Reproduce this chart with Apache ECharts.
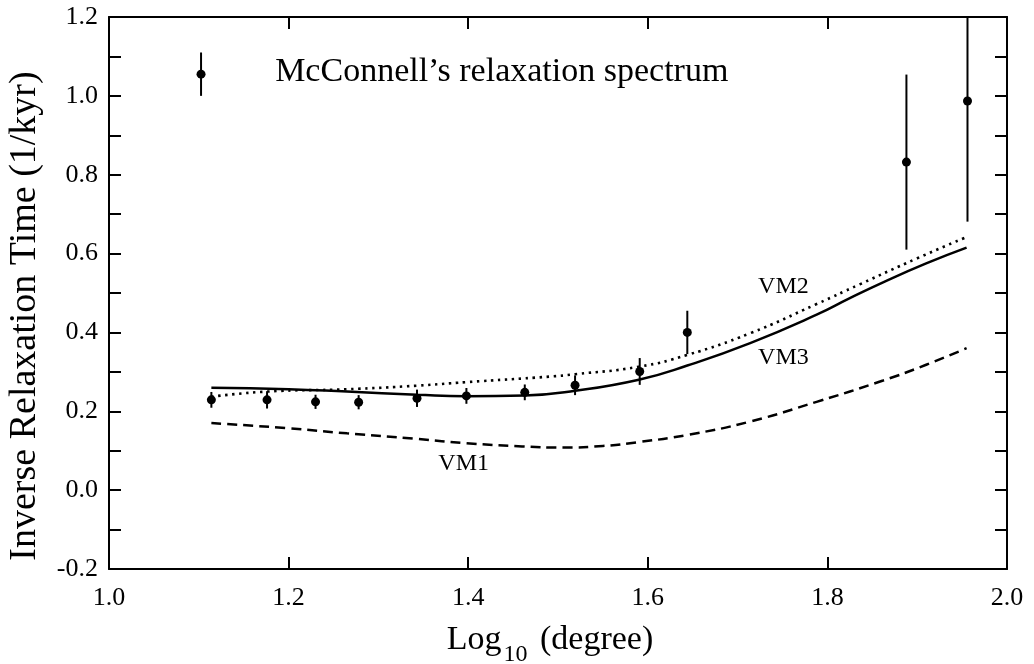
<!DOCTYPE html>
<html>
<head>
<meta charset="utf-8">
<script src="https://cdn.jsdelivr.net/npm/echarts@6/dist/echarts.min.js"></script>
<style>
html,body{margin:0;padding:0;background:#fff;}
#chart{width:1034px;height:664px;}
</style>
</head>
<body>
<div id="chart"></div>
<script>
// Observed relaxation spectrum (McConnell)
const obsX   = [1.114, 1.176, 1.230, 1.278, 1.343, 1.398, 1.463, 1.519, 1.591, 1.644, 1.888, 1.956];
const obsY   = [0.229, 0.229, 0.224, 0.223, 0.233, 0.239, 0.248, 0.266, 0.301, 0.400, 0.832, 0.987];
const obsErr = [0.020, 0.022, 0.018, 0.018, 0.022, 0.020, 0.020, 0.025, 0.034, 0.055, 0.222, 0.306];

// Legend key symbol
const keyX = [1.1025];
const keyY = [1.055];
const keyErr = [0.055];

// Model curves
const vm1X = [1.114, 1.200, 1.265, 1.343, 1.398, 1.460, 1.505, 1.550, 1.590, 1.644, 1.714, 1.788, 1.862, 1.910, 1.955];
const vm1Y = [0.170, 0.157, 0.144, 0.130, 0.119, 0.111, 0.108, 0.112, 0.122, 0.140, 0.174, 0.224, 0.278, 0.318, 0.360];

const vm2X = [1.114, 1.176, 1.265, 1.343, 1.398, 1.491, 1.519, 1.590, 1.644, 1.714, 1.788, 1.836, 1.900, 1.955];
const vm2Y = [0.237, 0.250, 0.256, 0.265, 0.274, 0.288, 0.294, 0.313, 0.343, 0.398, 0.472, 0.522, 0.588, 0.642];

const vm3X = [1.114, 1.200, 1.265, 1.343, 1.398, 1.463, 1.519, 1.590, 1.644, 1.714, 1.788, 1.825, 1.862, 1.910, 1.955];
const vm3Y = [0.260, 0.256, 0.250, 0.242, 0.238, 0.240, 0.252, 0.280, 0.316, 0.373, 0.445, 0.487, 0.527, 0.575, 0.615];

// Text annotations
const annText = ['McConnell\u2019s relaxation spectrum', 'VM1', 'VM2', 'VM3'];
const annX    = [1.185, 1.395, 1.751, 1.751];
const annY    = [1.061, 0.066, 0.516, 0.336];

// Axis titles
const xTitle = 'Log{sub|10} (degree)';
const yTitle = 'Inverse Relaxation Time (1/kyr)';

const X_MIN = 1.0, X_MAX = 2.0, Y_MIN = -0.2, Y_MAX = 1.2;

const FONT = '"Liberation Serif", "Times New Roman", serif';
const zip = (a, b) => a.map((v, i) => [v, b[i]]);

const chart = echarts.init(document.getElementById('chart'), null, {renderer: 'canvas'});

function errRender(params, api) {
  const x = api.value(0), y = api.value(1), e = api.value(2);
  const hi = Math.min(y + e, Y_MAX), lo = Math.max(y - e, Y_MIN);
  const t = api.coord([x, hi]), b = api.coord([x, lo]), c = api.coord([x, y]);
  return {
    type: 'group',
    children: [
      {type: 'line', shape: {x1: t[0], y1: t[1], x2: b[0], y2: b[1]}, style: {stroke: '#000', lineWidth: 2}},
      {type: 'circle', shape: {cx: c[0], cy: c[1], r: 4.5}, style: {fill: '#000'}}
    ]
  };
}

const axisLine = {show: true, onZero: false, lineStyle: {color: '#000', width: 2}};
const tick = {show: true, inside: true, length: 12, lineStyle: {color: '#000', width: 2}};

const option = {
  backgroundColor: '#fff',
  animation: false,
  grid: {left: 109, right: 27, top: 17, bottom: 95, containLabel: false, outerBoundsMode: 'none'},
  xAxis: [
    {
      type: 'value', min: X_MIN, max: X_MAX, interval: 0.2, position: 'bottom',
      axisLine: axisLine, axisTick: tick, splitLine: {show: false},
      axisLabel: {color: '#000', fontFamily: FONT, fontSize: 26, margin: 16,
        formatter: v => v.toFixed(1)}
    },
    {
      type: 'value', min: X_MIN, max: X_MAX, interval: 0.2, position: 'top',
      axisLine: axisLine, axisTick: tick, axisLabel: {show: false}, splitLine: {show: false}
    }
  ],
  yAxis: [
    {
      type: 'value', min: Y_MIN, max: Y_MAX, interval: 0.2, position: 'left',
      axisLine: axisLine, axisTick: tick,
      minorTick: {show: true, splitNumber: 2, length: 12, lineStyle: {color: '#000', width: 2}},
      splitLine: {show: false},
      axisLabel: {color: '#000', fontFamily: FONT, fontSize: 26, margin: 11,
        formatter: v => v.toFixed(1)}
    },
    {
      type: 'value', min: Y_MIN, max: Y_MAX, interval: 0.2, position: 'right',
      axisLine: axisLine, axisTick: tick,
      minorTick: {show: true, splitNumber: 2, length: 12, lineStyle: {color: '#000', width: 2}},
      axisLabel: {show: false}, splitLine: {show: false}
    }
  ],
  graphic: [
    {
      type: 'text', x: 550, y: 640,
      style: {
        text: xTitle, fill: '#000', fontFamily: FONT, fontSize: 34,
        align: 'center', verticalAlign: 'middle',
        rich: {sub: {fontFamily: FONT, fontSize: 24, fill: '#000', padding: [30, 4, 0, 2]}}
      }
    },
    {
      type: 'text', x: 25, y: 316, rotation: Math.PI / 2,
      style: {
        text: yTitle, fill: '#000', fontFamily: FONT, fontSize: 38,
        align: 'center', verticalAlign: 'middle'
      }
    }
  ],
  series: [
    {
      name: 'VM1', type: 'line', data: zip(vm1X, vm1Y), smooth: true, symbol: 'none',
      lineStyle: {color: '#000', width: 2.5, type: [10, 6]}
    },
    {
      name: 'VM2', type: 'line', data: zip(vm2X, vm2Y), smooth: true, symbol: 'none',
      lineStyle: {color: '#000', width: 2.6, type: [2.4, 4.6], cap: 'butt'}
    },
    {
      name: 'VM3', type: 'line', data: zip(vm3X, vm3Y), smooth: true, symbol: 'none',
      lineStyle: {color: '#000', width: 2.5}
    },
    {
      name: 'McConnell', type: 'custom', renderItem: errRender,
      data: obsX.map((x, i) => [x, obsY[i], obsErr[i]]), z: 5
    },
    {
      name: 'key', type: 'custom', renderItem: errRender,
      data: keyX.map((x, i) => [x, keyY[i], keyErr[i]]), z: 5
    },
    {
      name: 'annotations', type: 'scatter', symbolSize: 0, silent: true,
      itemStyle: {opacity: 1},
      data: annText.map((t, i) => ({
        value: [annX[i], annY[i]], name: t,
        label: i === 0
          ? {show: true, position: 'right', distance: 0, fontSize: 34, align: 'left', color: '#000', opacity: 1, fontFamily: FONT, formatter: '{b}'}
          : {show: true, position: 'inside', fontSize: 24, color: '#000', opacity: 1, fontFamily: FONT, formatter: '{b}'}
      }))
    }
  ]
};

chart.setOption(option);
</script>
</body>
</html>
